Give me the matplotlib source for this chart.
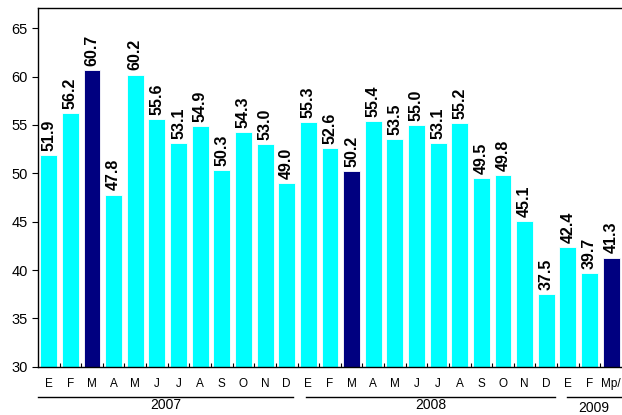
import matplotlib
matplotlib.use("Agg")
import matplotlib.pyplot as plt
import matplotlib.transforms as mtransforms

plt.rcParams['font.family'] = ['Liberation Sans', 'DejaVu Sans']

# data
months = ['E', 'F', 'M', 'A', 'M', 'J', 'J', 'A', 'S', 'O', 'N', 'D',
          'E', 'F', 'M', 'A', 'M', 'J', 'J', 'A', 'S', 'O', 'N', 'D',
          'E', 'F', 'Mp/']
values = [51.9, 56.2, 60.7, 47.8, 60.2, 55.6, 53.1, 54.9, 50.3, 54.3, 53.0, 49.0,
          55.3, 52.6, 50.2, 55.4, 53.5, 55.0, 53.1, 55.2, 49.5, 49.8, 45.1, 37.5,
          42.4, 39.7, 41.3]
highlight = [2, 14, 26]   # marzo de cada año
years = ['2007', '2008', '2009']

cyan = '#00FFFF'
navy = '#000080'
colors = [navy if i in highlight else cyan for i in range(len(values))]

fig = plt.figure(figsize=(6.22, 4.15), dpi=100)
ax = fig.add_axes([0.061, 0.116, 0.939, 0.865])

x = list(range(len(values)))
base = 30
ax.bar(x, [v - base for v in values], bottom=base, width=0.78, color=colors,
       edgecolor='white', linewidth=0.6)

for xi, v in zip(x, values):
    ax.annotate(f"{v:.1f}", (xi, v), xytext=(0, 3), textcoords='offset points',
                rotation=90, ha='center', va='bottom', fontsize=11.5,
                fontweight='bold')

ax.set_xlim(-0.5, len(values) - 0.5)
ax.set_ylim(30, 67.1)
ax.set_yticks(range(30, 66, 5))
ax.tick_params(axis='y', labelsize=10.5, length=4, width=0.8)

ax.set_xticks(x)
ax.set_xticklabels(months, fontsize=8.5)
ax.tick_params(axis='x', which='major', length=0, pad=8)
ax.set_xticks([i + 0.5 for i in x[:-1]], minor=True)
ax.tick_params(axis='x', which='minor', direction='in', length=3, width=0.8)

ax.spines['right'].set_visible(False)
for s in ['left', 'top', 'bottom']:
    ax.spines[s].set_linewidth(1.0)

# year groups under the month labels
trans = mtransforms.blended_transform_factory(ax.transData, ax.transAxes)
line_ends = [(-0.5, 11.3), (11.9, 23.4), (23.95, 26.5)]
text_pos = [(5.4, -0.107), (17.65, -0.107), (25.2, -0.114)]
for yr, (a, b), (tx, ty) in zip(years, line_ends, text_pos):
    ax.plot([a, b], [-0.084, -0.084], color='black', lw=1.0,
            transform=trans, clip_on=False)
    ax.text(tx, ty, yr, transform=trans, ha='center', va='center', fontsize=10)

fig.savefig('out.png', dpi=100)
